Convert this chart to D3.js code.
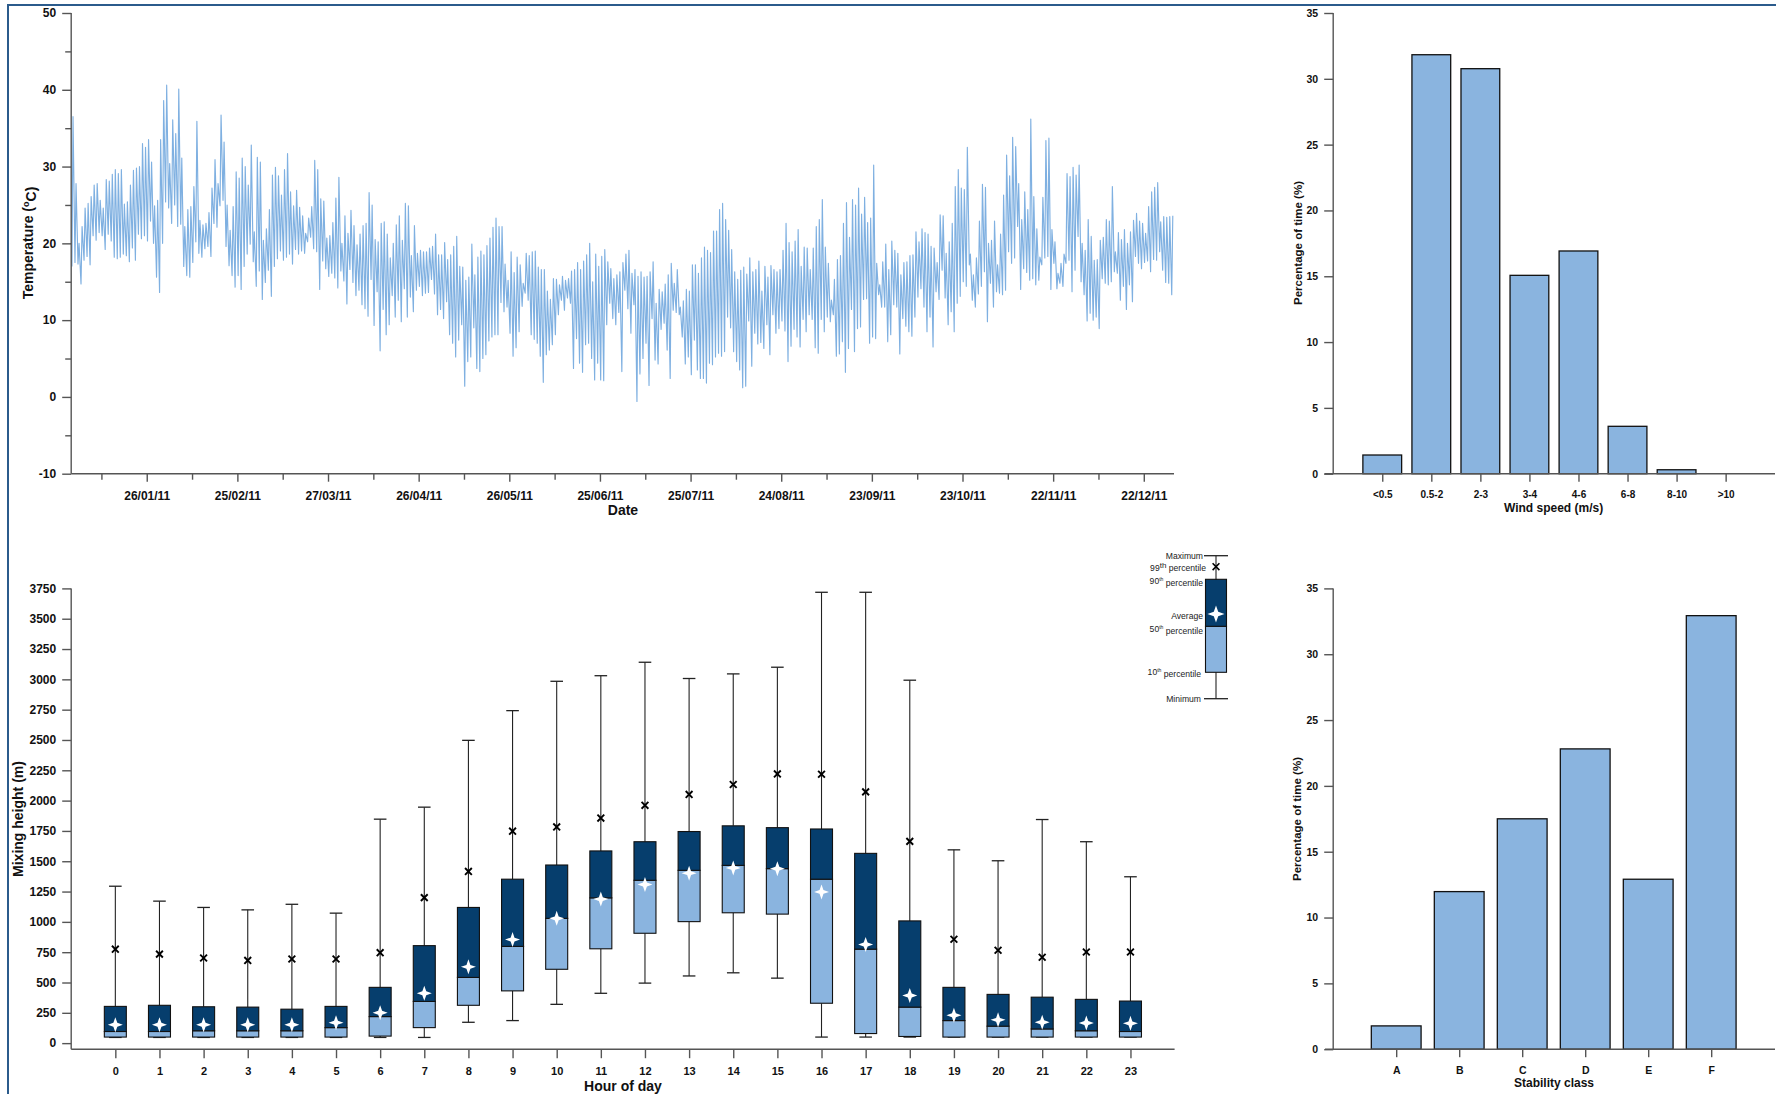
<!DOCTYPE html>
<html><head><meta charset="utf-8">
<script src="https://cdn.jsdelivr.net/npm/d3@7"></script>
<style>
body{margin:0;background:#fff;}
svg{display:block;font-family:"Liberation Sans",Arial,sans-serif;}
</style></head><body>
<svg id="c" width="1776" height="1094"></svg>
<script>
// ---------------- DATA ----------------
// Daily maximum temperature (ºC), 1 Jan 2011 .. 31 Dec 2011
const tempMax = [
36.5,27.8,20.0,22.2,24.6,25.2,26.1,27.6,27.8,25.6,24.6,28.3,28.1,29.0,29.6,29.1,29.6,25.1,25.4,27.6,
29.5,29.8,30.0,33.0,32.5,33.5,30.6,24.9,25.6,33.5,38.6,40.6,30.4,36.1,34.3,40.1,31.1,22.2,24.4,24.8,
27.4,35.9,23.0,22.4,22.6,24.0,27.2,30.9,27.8,36.7,33.2,25.0,21.7,24.8,29.3,28.5,31.1,30.0,27.6,32.8,
21.5,31.2,30.6,20.4,21.9,24.4,28.9,29.9,28.8,26.3,29.6,31.7,26.7,
24.9,26.9,24.7,23.6,21.3,23.3,24.8,30.8,29.6,25.8,25.5,20.7,21.0,22.7,25.9,28.6,20.0,23.6,21.3,24.3,
22.3,19.8,21.2,22.3,22.6,26.6,25.0,20.5,20.2,22.6,22.8,21.2,18.1,20.0,22.4,23.6,20.4,25.2,24.9,18.4,
22.3,18.7,19.1,18.9,18.9,19.4,19.6,21.2,18.5,18.5,20.1,17.9,18.5,19.6,20.9,17.0,16.9,15.2,15.6,19.9,
15.9,18.2,19.0,18.5,19.7,20.7,22.1,23.3,22.2,22.2,17.3,15.2,18.9,
16.2,18.2,17.2,14.8,18.7,18.4,18.9,19.0,16.9,16.6,16.6,13.8,12.7,15.4,15.3,14.6,15.7,15.2,15.4,16.4,
16.6,17.5,16.6,17.7,18.5,20.0,15.0,18.6,17.0,18.3,19.2,17.6,16.7,15.4,15.9,16.3,17.5,18.6,19.1,16.1,
16.6,15.7,16.3,15.6,15.7,16.3,17.6,12.2,14.0,13.7,14.7,15.9,17.4,14.8,16.6,11.7,12.5,14.0,13.8,17.2,
17.2,16.1,18.1,19.5,19.1,18.8,21.6,21.6,24.4,25.2,23.1,21.7,19.2,
16.3,15.3,16.5,16.9,16.0,18.1,16.3,16.6,17.7,13.8,17.0,15.6,17.1,16.6,16.3,16.6,19.1,22.6,20.1,18.9,
20.3,21.8,17.0,19.5,19.4,16.6,19.4,22.2,23.1,25.7,19.5,17.4,12.6,15.3,17.9,18.4,22.6,25.3,20.8,25.7,
25.0,27.2,23.8,26.0,22.7,23.3,30.2,17.4,14.6,17.6,19.9,16.6,20.3,19.1,18.7,15.9,17.5,17.6,18.4,18.5,
21.5,20.2,21.9,21.4,21.2,19.6,19.4,17.5,23.7,23.6,18.7,20.2,22.6,
27.4,29.6,27.2,27.0,32.5,18.6,15.9,18.1,22.9,27.7,27.3,20.0,20.4,22.9,17.2,21.2,26.3,31.5,28.8,33.8,
32.6,27.8,23.1,26.7,24.4,36.2,26.1,21.9,18.2,26.0,33.4,33.7,21.8,20.2,16.1,17.4,18.6,29.1,28.7,29.9,
28.9,30.2,20.0,19.1,23.1,20.9,17.8,17.9,20.4,20.8,23.1,22.9,27.4,18.9,21.4,20.5,21.8,20.0,21.5,23.0,
23.9,22.9,22.6,21.3,24.8,26.7,27.3,27.9,22.8,23.5,23.4,23.5,23.6
];
// Daily minimum temperature (ºC)
const tempMin = [
17.0,17.5,17.3,14.7,17.8,18.3,17.2,21.0,20.4,21.4,21.0,19.2,21.2,20.3,18.2,18.0,18.2,18.6,18.4,17.6,
19.4,17.8,21.2,20.6,21.0,20.3,22.9,20.0,15.6,13.6,20.0,25.4,24.6,22.6,25.0,22.2,22.5,17.0,15.8,15.6,
17.5,20.2,18.7,18.2,19.3,19.6,18.3,22.6,22.1,24.9,25.6,19.6,17.1,15.8,14.3,15.8,14.0,17.0,18.6,19.9,
17.6,14.4,16.4,12.7,14.9,16.5,13.1,17.0,18.0,19.0,17.8,18.2,18.6,
17.3,19.2,18.6,19.0,18.7,20.2,20.8,19.3,18.9,14.0,17.7,16.7,15.7,16.1,15.5,14.2,16.4,15.1,12.1,16.6,
14.9,13.2,13.9,12.0,11.5,10.5,15.3,9.3,13.7,6.0,11.4,8.1,9.4,13.2,10.4,12.6,9.8,14.1,10.4,13.0,
11.1,13.9,14.4,13.2,13.5,13.6,15.3,13.4,10.7,11.4,10.2,12.4,8.1,7.0,5.2,7.4,9.4,1.4,4.6,5.2,
9.0,3.7,3.3,5.0,5.5,7.3,7.8,8.1,8.1,12.3,11.1,11.7,8.3,
5.3,6.4,8.5,11.8,13.5,12.6,8.1,7.5,7.0,5.3,1.9,5.5,6.1,6.8,8.1,10.7,12.6,11.3,12.9,12.2,
3.7,7.6,4.4,3.2,6.8,7.0,5.0,2.2,4.4,2.2,2.1,9.4,12.2,10.2,9.4,11.0,3.3,13.9,11.5,8.3,
12.0,-0.6,3.0,5.0,7.0,1.5,10.2,4.8,4.3,8.8,9.6,6.1,2.4,11.3,11.0,10.7,7.8,4.3,5.2,2.9,
7.4,3.5,2.4,2.4,1.8,4.4,4.2,5.2,5.7,5.3,5.9,10.4,9.0,
5.9,4.6,3.5,1.2,1.4,9.9,4.0,8.3,6.9,7.1,6.3,9.4,5.5,10.7,8.3,8.9,9.9,8.6,4.6,6.6,
8.8,7.8,6.5,10.1,8.5,10.7,10.1,6.4,5.7,10.1,8.5,10.4,9.8,10.7,5.3,5.6,7.2,3.2,6.3,11.4,
5.9,8.9,9.1,12.7,12.8,7.0,7.8,7.6,13.3,11.7,11.7,7.2,8.1,12.0,11.7,5.6,10.2,9.2,8.5,7.9,
10.4,13.0,14.1,11.7,8.5,10.4,6.5,13.7,12.7,16.5,12.9,9.4,11.1,
8.5,12.2,13.1,15.0,14.4,17.2,12.6,11.7,13.4,14.4,16.3,9.8,14.8,11.7,13.7,13.5,13.3,13.9,18.9,17.4,
18.1,22.2,14.0,16.7,16.2,15.2,15.4,14.6,15.2,17.2,18.1,18.3,14.0,17.4,14.1,14.8,14.4,17.4,17.8,13.7,
16.5,20.9,15.0,13.3,9.9,10.9,10.0,10.4,8.9,15.4,14.8,14.6,15.0,16.3,16.1,12.6,14.4,11.4,14.6,12.4,
18.3,17.4,16.7,17.5,17.7,16.3,17.9,17.8,18.9,16.5,14.9,14.8,13.3
];
const tempTicksMajor = [-10,0,10,20,30,40,50];
const tempTicksMinor = [-5,5,15,25,35,45];
const dateTicks = ["2011-01-26","2011-02-25","2011-03-27","2011-04-26","2011-05-26","2011-06-25",
                   "2011-07-25","2011-08-24","2011-09-23","2011-10-23","2011-11-22","2011-12-22"];
const dateMinorTicks = ["2011-01-11","2011-02-10","2011-03-12","2011-04-11","2011-05-11","2011-06-10",
                        "2011-07-10","2011-08-09","2011-09-08","2011-10-08","2011-11-07","2011-12-07"];

const windCats = ["<0.5","0.5-2","2-3","3-4","4-6","6-8","8-10",">10"];
const windPct  = [1.42,31.83,30.77,15.07,16.92,3.6,0.3,0];
const pctTicks = [0,5,10,15,20,25,30,35];

const hours  = d3.range(0,24);
const mhMax  = [1294,1171,1119,1099,1145,1072,1847,1946,2497,2742,2984,3030,3141,3007,3045,3100,3718,3718,2993,1594,1504,1844,1661,1372];
const mhP99  = [775,734,702,682,694,694,746,1200,1416,1748,1783,1856,1961,2051,2133,2220,2217,2072,1664,857,766,708,752,752];
const mhP90  = [303,312,300,297,280,303,460,804,1119,1352,1469,1585,1661,1745,1792,1777,1766,1565,1008,460,402,379,361,347];
const mhMean = [152,152,152,152,152,169,250,411,629,854,1029,1188,1308,1402,1445,1439,1247,813,393,230,192,172,166,163];
const mhP50  = [96,96,102,102,102,128,219,344,542,798,1029,1198,1343,1425,1466,1439,1352,775,297,186,140,117,102,96];
const mhP10  = [50,50,50,50,50,50,58,128,312,431,609,778,906,1002,1075,1064,329,79,55,50,50,50,50,50];
const mhMin  = [47,47,47,47,47,47,47,47,172,186,320,411,495,554,580,536,50,50,50,50,50,50,50,50];
const mhTicks = [0,250,500,750,1000,1250,1500,1750,2000,2250,2500,2750,3000,3250,3500,3750];

const stabCats = ["A","B","C","D","E","F"];
const stabPct  = [1.77,11.97,17.5,22.81,12.91,32.93];

const legendLabels = ["Maximum","99","90","Average","50","10","Minimum"];

// ---------------- DRAW ----------------
const svg = d3.select("#c");
const FONT = '"Liberation Sans",Arial,sans-serif';
const AX = "#555";
const LIGHT = "#8ab4df", DARK = "#063e6d", LINE = "#7fb0e1";
const plain = d => String(d);

svg.append("rect").attr("x",8).attr("y",5).attr("width",1800).attr("height",1200)
  .attr("fill","none").attr("stroke","#2b5b8c").attr("stroke-width",2);

function style(g, fs){
  g.attr("font-family",FONT).attr("font-size",fs);
  g.select(".domain").remove();
  g.selectAll(".tick line").attr("stroke",AX).attr("stroke-width",1.4);
  g.selectAll(".tick text").attr("fill","#111").attr("font-weight","bold");
}
function hline(x1,x2,y){ svg.append("line").attr("x1",x1).attr("x2",x2).attr("y1",y).attr("y2",y).attr("stroke",AX).attr("stroke-width",1.4); }
function vline(x,y1,y2){ svg.append("line").attr("x1",x).attr("x2",x).attr("y1",y1).attr("y2",y2).attr("stroke",AX).attr("stroke-width",1.4); }
function ylabel(t,x,y,fs){
  return svg.append("text").attr("transform",`translate(${x},${y}) rotate(-90)`).attr("text-anchor","middle")
    .attr("dy","0.35em").attr("font-family",FONT).attr("font-size",fs).attr("font-weight","bold").attr("fill","#111").text(t);
}
function xlabel(t,x,y,fs){
  return svg.append("text").attr("x",x).attr("y",y).attr("text-anchor","middle").attr("font-family",FONT)
    .attr("font-size",fs).attr("font-weight","bold").attr("fill","#111").text(t);
}

// ===== Panel 1: temperature =====
const pd = d3.utcParse("%Y-%m-%d");
const t0 = Date.UTC(2011,0,1);
const tx = d3.scaleUtc().domain([new Date(t0), new Date(Date.UTC(2012,0,1))]).range([71.2,1174]);
const ty = d3.scaleLinear().domain([-10,50]).range([473.7,13]);

const tpts = [];
tempMax.forEach((mx,d)=>{
  tpts.push([new Date(t0+(d+0.25)*864e5), tempMin[d]]);
  tpts.push([new Date(t0+(d+0.6)*864e5), mx]);
});
svg.append("path").datum(tpts).attr("fill","none").attr("stroke",LINE).attr("stroke-width",1.15)
  .attr("stroke-linejoin","round")
  .attr("d", d3.line().x(p=>tx(p[0])).y(p=>ty(p[1])));

style(svg.append("g").attr("transform","translate(71.2,0)")
  .call(d3.axisLeft(ty).tickValues(tempTicksMajor).tickSize(9).tickPadding(6).tickSizeOuter(0).tickFormat(plain)),12);
style(svg.append("g").attr("transform","translate(71.2,0)")
  .call(d3.axisLeft(ty).tickValues(tempTicksMinor).tickSize(6).tickFormat("").tickSizeOuter(0)),12);
style(svg.append("g").attr("transform","translate(0,473.7)")
  .call(d3.axisBottom(tx).tickValues(dateTicks.map(pd)).tickSize(8).tickPadding(10).tickSizeOuter(0)
  .tickFormat(d3.utcFormat("%d/%m/%y"))),12);
style(svg.append("g").attr("transform","translate(0,473.7)")
  .call(d3.axisBottom(tx).tickValues(dateMinorTicks.map(pd)).tickSize(6).tickFormat("").tickSizeOuter(0)),12);
vline(71.2,13,473.7); hline(71.2,1174,473.7);
const tl = ylabel("",28.5,243,14);
tl.append("tspan").text("Temperature (");
tl.append("tspan").attr("font-size",9).attr("dy","-0.45em").text("o");
tl.append("tspan").attr("dy","0.45em").text("C)");
xlabel("Date",623,515,14);

// ===== Panel 2: wind speed =====
const wx = d3.scalePoint().domain(windCats).range([1333.2,1774.7]).padding(1);
const wy = d3.scaleLinear().domain([0,35]).range([473.7,13]);
const wbw = wx.step()*0.79;
svg.append("g").selectAll("rect").data(windCats).join("rect")
  .attr("x",c=>wx(c)-wbw/2).attr("width",wbw)
  .attr("y",(c,i)=>wy(windPct[i])).attr("height",(c,i)=>wy(0)-wy(windPct[i]))
  .attr("fill",LIGHT).attr("stroke","#111").attr("stroke-width",1.3);
style(svg.append("g").attr("transform","translate(1333.2,0)")
  .call(d3.axisLeft(wy).tickValues(pctTicks).tickSize(9).tickPadding(6).tickSizeOuter(0).tickFormat(plain)),10.5);
style(svg.append("g").attr("transform","translate(0,473.7)")
  .call(d3.axisBottom(wx).tickSize(8).tickPadding(9.5).tickSizeOuter(0)),10);
vline(1333.2,13,473.7); hline(1324.5,1775,473.7);
ylabel("Percentage of time (%)",1298,243,11.5);
xlabel("Wind speed (m/s)",1553.6,512,12);

// ===== Panel 3: mixing height box plot =====
const bx = d3.scaleLinear().domain([-1,24]).range([71.2,1174.6]);
const by = d3.scaleLinear().domain([-50,3750]).range([1049.2,588.4]);
const bw = 22, cw = 6.3;
const bg = svg.append("g");
hours.forEach(h=>{
  const x = bx(h);
  const g = bg.append("g");
  g.append("line").attr("x1",x).attr("x2",x).attr("y1",by(mhMax[h])).attr("y2",by(mhP90[h])).attr("stroke","#222").attr("stroke-width",1.1);
  g.append("line").attr("x1",x).attr("x2",x).attr("y1",by(mhMin[h])).attr("y2",by(mhP10[h])).attr("stroke","#222").attr("stroke-width",1.1);
  g.append("line").attr("x1",x-cw).attr("x2",x+cw).attr("y1",by(mhMax[h])).attr("y2",by(mhMax[h])).attr("stroke","#222").attr("stroke-width",1.3);
  g.append("line").attr("x1",x-cw).attr("x2",x+cw).attr("y1",by(mhMin[h])).attr("y2",by(mhMin[h])).attr("stroke","#222").attr("stroke-width",1.3);
  g.append("rect").attr("x",x-bw/2).attr("width",bw).attr("y",by(mhP50[h])).attr("height",by(mhP10[h])-by(mhP50[h]))
    .attr("fill",LIGHT).attr("stroke","#111").attr("stroke-width",1.1);
  g.append("rect").attr("x",x-bw/2).attr("width",bw).attr("y",by(mhP90[h])).attr("height",by(mhP50[h])-by(mhP90[h]))
    .attr("fill",DARK).attr("stroke","#111").attr("stroke-width",1.1);
});
function star4(r){ const w=r*0.26; return `M0,${-r}L${w},${-w}L${r},0L${w},${w}L0,${r}L${-w},${w}L${-r},0L${-w},${-w}Z`; }
const cross = "M-3.4,-3.4L3.4,3.4M-3.4,3.4L3.4,-3.4";
bg.selectAll("path.x99").data(hours).join("path").attr("class","x99")
  .attr("transform",h=>`translate(${bx(h)},${by(mhP99[h])})`).attr("d",cross).attr("stroke","#000").attr("stroke-width",1.9).attr("fill","none");
bg.selectAll("path.mean").data(hours).join("path").attr("class","mean")
  .attr("transform",h=>`translate(${bx(h)},${by(mhMean[h])})`).attr("d",star4(7.5)).attr("fill","#fff");

style(svg.append("g").attr("transform","translate(71.2,0)")
  .call(d3.axisLeft(by).tickValues(mhTicks).tickSize(9).tickPadding(6).tickSizeOuter(0).tickFormat(plain)),12);
style(svg.append("g").attr("transform","translate(0,1049.2)")
  .call(d3.axisBottom(bx).tickValues(hours).tickSize(9).tickPadding(9).tickSizeOuter(0).tickFormat(plain)),11);
vline(71.2,588.4,1049.2); hline(71.2,1174.6,1049.2);
ylabel("Mixing height (m)",18,819,14);
xlabel("Hour of day",623,1091,14);

// legend
const lx = 1216;
const lgY = {max:555.7, p99:566.7, p90:579.3, avg:614, p50:626.3, p10:672.3, min:698.7};
const lg = svg.append("g").attr("font-family",FONT).attr("font-size",8.6).attr("fill","#222");
lg.append("line").attr("x1",lx).attr("x2",lx).attr("y1",lgY.max).attr("y2",lgY.min).attr("stroke","#222").attr("stroke-width",1.1);
lg.append("line").attr("x1",lx-12).attr("x2",lx+12).attr("y1",lgY.max).attr("y2",lgY.max).attr("stroke","#222").attr("stroke-width",1.3);
lg.append("line").attr("x1",lx-12).attr("x2",lx+12).attr("y1",lgY.min).attr("y2",lgY.min).attr("stroke","#222").attr("stroke-width",1.3);
lg.append("rect").attr("x",lx-10.5).attr("width",21).attr("y",lgY.p50).attr("height",lgY.p10-lgY.p50).attr("fill",LIGHT).attr("stroke","#111").attr("stroke-width",1.1);
lg.append("rect").attr("x",lx-10.5).attr("width",21).attr("y",lgY.p90).attr("height",lgY.p50-lgY.p90).attr("fill",DARK).attr("stroke","#111").attr("stroke-width",1.1);
lg.append("path").attr("transform",`translate(${lx},${lgY.p99})`).attr("d",cross).attr("stroke","#000").attr("stroke-width",1.6).attr("fill","none");
lg.append("path").attr("transform",`translate(${lx},${lgY.avg})`).attr("d",star4(8.5)).attr("fill","#fff");
function ltxt(y, x){ return lg.append("text").attr("x",x).attr("y",y).attr("dy","0.35em").attr("text-anchor","end"); }
ltxt(lgY.max,1203).text(legendLabels[0]);
let t = ltxt(lgY.p99+1,1206); t.append("tspan").text(legendLabels[1]); t.append("tspan").attr("font-size",8).attr("dy","-0.4em").text("th"); t.append("tspan").attr("dy","0.4em").text(" percentile");
t = ltxt(lgY.p90+2,1203); t.append("tspan").text(legendLabels[2]); t.append("tspan").attr("font-size",5).attr("dy","-0.6em").text("th"); t.append("tspan").attr("dy","0.6em").text(" percentile");
ltxt(lgY.avg+2,1203).text(legendLabels[3]);
t = ltxt(lgY.p50+3,1203); t.append("tspan").text(legendLabels[4]); t.append("tspan").attr("font-size",5).attr("dy","-0.6em").text("th"); t.append("tspan").attr("dy","0.6em").text(" percentile");
t = ltxt(lgY.p10,1201); t.append("tspan").text(legendLabels[5]); t.append("tspan").attr("font-size",5).attr("dy","-0.6em").text("th"); t.append("tspan").attr("dy","0.6em").text(" percentile");
ltxt(lgY.min,1201).text(legendLabels[6]);

// ===== Panel 4: stability class =====
const sx = d3.scalePoint().domain(stabCats).range([1333.2,1774.2]).padding(1);
const sy = d3.scaleLinear().domain([0,35]).range([1049.2,588.4]);
const sbw = sx.step()*0.79;
svg.append("g").selectAll("rect").data(stabCats).join("rect")
  .attr("x",c=>sx(c)-sbw/2).attr("width",sbw)
  .attr("y",(c,i)=>sy(stabPct[i])).attr("height",(c,i)=>sy(0)-sy(stabPct[i]))
  .attr("fill",LIGHT).attr("stroke","#111").attr("stroke-width",1.3);
style(svg.append("g").attr("transform","translate(1333.2,0)")
  .call(d3.axisLeft(sy).tickValues(pctTicks).tickSize(9).tickPadding(6).tickSizeOuter(0).tickFormat(plain)),10.5);
style(svg.append("g").attr("transform","translate(0,1049.2)")
  .call(d3.axisBottom(sx).tickSize(8).tickPadding(9.5).tickSizeOuter(0)),10.5);
vline(1333.2,588.4,1049.2); hline(1325,1775,1049.2);
ylabel("Percentage of time (%)",1297,819,11.5);
xlabel("Stability class",1554,1087,12);
</script>
</body></html>
